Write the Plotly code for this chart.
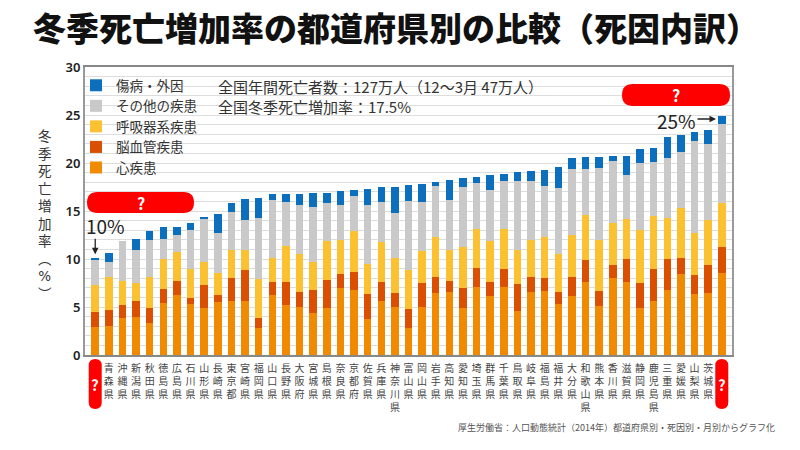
import plotly.graph_objects as go

# ---------------- data ----------------
prefectures = ["?", "青森県", "沖縄県", "新潟県", "秋田県", "徳島県", "広島県", "石川県", "山形県",
               "長崎県", "東京都", "宮崎県", "福岡県", "山口県", "長野県", "大阪府", "宮城県",
               "島根県", "奈良県", "京都府", "佐賀県", "兵庫県", "神奈川県", "富山県", "岡山県",
               "岩手県", "高知県", "愛知県", "埼玉県", "群馬県", "千葉県", "鳥取県", "岐阜県",
               "福島県", "福井県", "大分県", "和歌山県", "熊本県", "香川県", "滋賀県", "静岡県",
               "鹿児島県", "三重県", "愛媛県", "山梨県", "茨城県", "?"]

heart = [2.95, 3.02, 3.89, 3.99, 3.30, 5.45, 6.28, 5.31, 4.86, 5.52, 5.66, 5.66, 2.78, 6.28,
         5.24, 5.03, 4.38, 4.86, 6.94, 6.77, 3.78, 5.63, 5.03, 2.78, 5.03, 6.42, 6.56, 4.86,
         7.05, 6.15, 7.12, 4.62, 6.60, 6.67, 5.31, 6.15, 7.57, 5.14, 7.99, 7.64, 4.93, 5.63,
         6.77, 8.44, 6.32, 6.46, 8.58]
cerebro = [1.53, 1.67, 1.28, 1.60, 1.63, 1.39, 1.46, 0.66, 2.43, 0.76, 2.33, 3.19, 1.11, 1.32,
           2.36, 1.57, 2.39, 2.95, 1.50, 1.91, 2.54, 1.94, 1.39, 2.05, 2.44, 1.67, 1.18, 2.08,
           1.98, 1.49, 1.87, 2.78, 1.56, 1.38, 1.29, 1.94, 2.33, 1.53, 1.39, 2.39, 2.60, 3.33,
           3.23, 1.70, 2.01, 2.92, 2.70]
respiratory = [2.82, 3.47, 2.54, 1.88, 3.16, 3.13, 3.02, 2.99, 2.36, 2.30, 2.95, 2.09, 4.03, 2.54,
               3.75, 3.89, 2.95, 4.07, 3.54, 4.24, 3.16, 4.17, 3.72, 4.02, 3.40, 4.17, 3.20, 4.34,
               4.06, 4.24, 4.14, 3.54, 3.82, 4.28, 3.92, 4.44, 4.65, 5.31, 4.34, 4.17, 5.49, 5.55,
               4.31, 5.21, 4.41, 4.68, 4.59]
other = [2.63, 1.49, 4.17, 3.47, 3.89, 2.11, 1.77, 4.03, 4.52, 4.09, 3.99, 3.12, 6.32, 6.01,
         4.62, 5.14, 5.66, 3.92, 3.65, 3.68, 6.15, 4.20, 4.69, 7.23, 5.10, 5.34, 5.21, 6.25,
         4.79, 5.31, 5.03, 7.22, 6.15, 5.31, 6.91, 6.81, 4.79, 7.50, 6.49, 4.58, 6.95, 5.56,
         6.25, 5.76, 9.59, 7.88, 8.19]
injury = [0.14, 1.01, 0.00, 1.11, 0.94, 1.22, 0.84, 0.73, 0.17, 1.98, 0.87, 2.16, 2.08, 0.62,
          0.80, 1.14, 1.46, 1.11, 1.45, 0.59, 1.70, 1.59, 2.70, 1.66, 1.81, 0.42, 2.08, 0.87,
          0.70, 1.56, 0.69, 0.90, 1.07, 1.63, 2.19, 1.15, 1.25, 1.18, 0.52, 1.98, 1.45, 1.46,
          2.11, 1.84, 0.90, 1.50, 0.87]

series_names = ["心疾患", "脳血管疾患", "呼吸器系疾患", "その他の疾患", "傷病・外因"]
series_values = [heart, cerebro, respiratory, other, injury]
series_colors = ["#F08A00", "#DA4F00", "#FBC131", "#C9C9C9", "#0B6FBE"]

y_ticks = [0, 5, 10, 15, 20, 25, 30]
title_text = "冬季死亡増加率の都道府県別の比較（死因内訳）"
y_title = "冬季死亡増加率︵%︶"
note_lines = ["全国年間死亡者数：127万人（12～3月 47万人）", "全国冬季死亡増加率：17.5%"]
source_text = "厚生労働省：人口動態統計（2014年）都道府県別・死因別・月別からグラフ化"
FONT = "Noto Sans CJK JP"
FONT_TIGHT = "DejaVu Sans, Noto Sans CJK JP"

# ---------------- layout geometry (screen pixels) ----------------
OFF = 8                      # page body margin
L, R, T, B = 85, 732, 67, 355
W, H = R - L, B - T


def px(x):
    return (x - L) / W


def py(y):
    return (B - y) / H


def pill(hw, hh):
    r = min(hw, hh)
    return (f"M{-hw + r},{-hh} L{hw - r},{-hh} Q{hw},{-hh} {hw},{-hh + r} "
            f"L{hw},{hh - r} Q{hw},{hh} {hw - r},{hh} L{-hw + r},{hh} "
            f"Q{-hw},{hh} {-hw},{hh - r} L{-hw},{-hh + r} Q{-hw},{-hh} {-hw + r},{-hh} Z")


n = len(prefectures)
idx = list(range(n))
totals = [sum(v[i] for v in series_values) for i in idx]

fig = go.Figure()
for name, vals, col in zip(series_names, series_values, series_colors):
    fig.add_trace(go.Bar(x=idx, y=vals, name=name, marker=dict(color=col, line=dict(width=0))))

ticktext = ["" if p == "?" else "<br>".join(p) for p in prefectures]

fig.update_layout(
    width=800, height=450,
    margin=dict(l=L - OFF, r=800 - (R - OFF), t=T - OFF, b=450 - (B - OFF)),
    barmode="stack", bargap=0.45,
    plot_bgcolor="white", paper_bgcolor="white",
    font=dict(family=FONT, color="#333"),
    title=dict(text=title_text, x=(396 - OFF) / 800, xanchor="center",
               y=1 - (29 - OFF) / 450, yanchor="middle",
               font=dict(family=FONT_TIGHT, size=33, color="#111", weight=900)),
    legend=dict(x=px(76), y=py(70), xanchor="left", yanchor="top", traceorder="reversed",
                bgcolor="rgba(0,0,0,0)", font=dict(family=FONT, size=13.5, color="#333"),
                tracegroupgap=0),
    xaxis=dict(range=[-0.75, n - 0.25], tickvals=idx, ticktext=ticktext, tickangle=0,
               tickfont=dict(family=FONT_TIGHT, size=10, color="#444"), ticklabelstandoff=3,
               showline=True, linecolor="#888", linewidth=2, mirror=True,
               showgrid=False, zeroline=False, ticks=""),
    yaxis=dict(range=[0, 30], tickvals=y_ticks,
               tickfont=dict(family="Noto Sans", size=13, color="#222", weight=600),
               showgrid=True, gridcolor="#DDDDDD", gridwidth=1,
               minor=dict(dtick=1, showgrid=True, gridcolor="#DDDDDD", gridwidth=1),
               showline=True, linecolor="#999", linewidth=2, mirror=True,
               zeroline=False, ticks=""),
)


def note(text, x, y, size, color="#333", xanchor="center", family=FONT):
    return dict(text=text, x=px(x), y=py(y), xref="paper", yref="paper", xanchor=xanchor,
                yanchor="middle", showarrow=False, font=dict(family=family, size=size, color=color))


ann = []
# y-axis title, upright stacked characters
ann.append(note("<br>".join(y_title), 45, 215, 13.5, family=FONT_TIGHT))
# notes next to legend
for k, line in enumerate(note_lines):
    ann.append(note(line, 216, 86 + 20.5 * k, 15, xanchor="left"))
# source
ann.append(note(source_text, 777, 427, 9, color="#555", xanchor="right"))
# 10% label with arrow
ann.append(note("10%", 105, 226, 19, color="#222"))
ann.append(dict(text="", x=0, y=totals[0], xref="x", yref="y", showarrow=True, ax=0, ay=-21,
                arrowhead=2, arrowsize=1, arrowwidth=1.3, arrowcolor="#222", standoff=4))
# 25% label with arrow
ann.append(note("25%", 676, 120, 19, color="#222"))
ann.append(dict(text="", x=px(716), y=py(119), xref="paper", yref="paper", showarrow=True,
                ax=-20, ay=0, arrowhead=2, arrowsize=1, arrowwidth=1.3, arrowcolor="#222"))

shapes = []
# red pills with "?"
for cx, cy, hw, hh in [(140.5, 202.5, 53.5, 10.5), (676, 95, 54, 11)]:
    shapes.append(dict(type="path", xref="paper", yref="paper", xsizemode="pixel",
                       ysizemode="pixel", xanchor=px(cx), yanchor=py(cy), path=pill(hw, hh),
                       fillcolor="#FF0000", line=dict(width=0), layer="above"))
    ann.append(note("<b>?</b>", cx, cy, 16, color="white"))
for i, p in enumerate(prefectures):
    if p == "?":
        shapes.append(dict(type="path", xref="x", yref="paper", xsizemode="pixel",
                           ysizemode="pixel", xanchor=i, yanchor=py(384), path=pill(6.5, 25),
                           fillcolor="#FF0000", line=dict(width=0), layer="above"))
        ann.append(dict(text="<b>?</b>", x=i, y=py(384), xref="x", yref="paper",
                        xanchor="center", yanchor="middle", showarrow=False,
                        font=dict(family=FONT, size=15, color="white")))

fig.update_layout(annotations=ann, shapes=shapes)
fig.write_html("out.html")
